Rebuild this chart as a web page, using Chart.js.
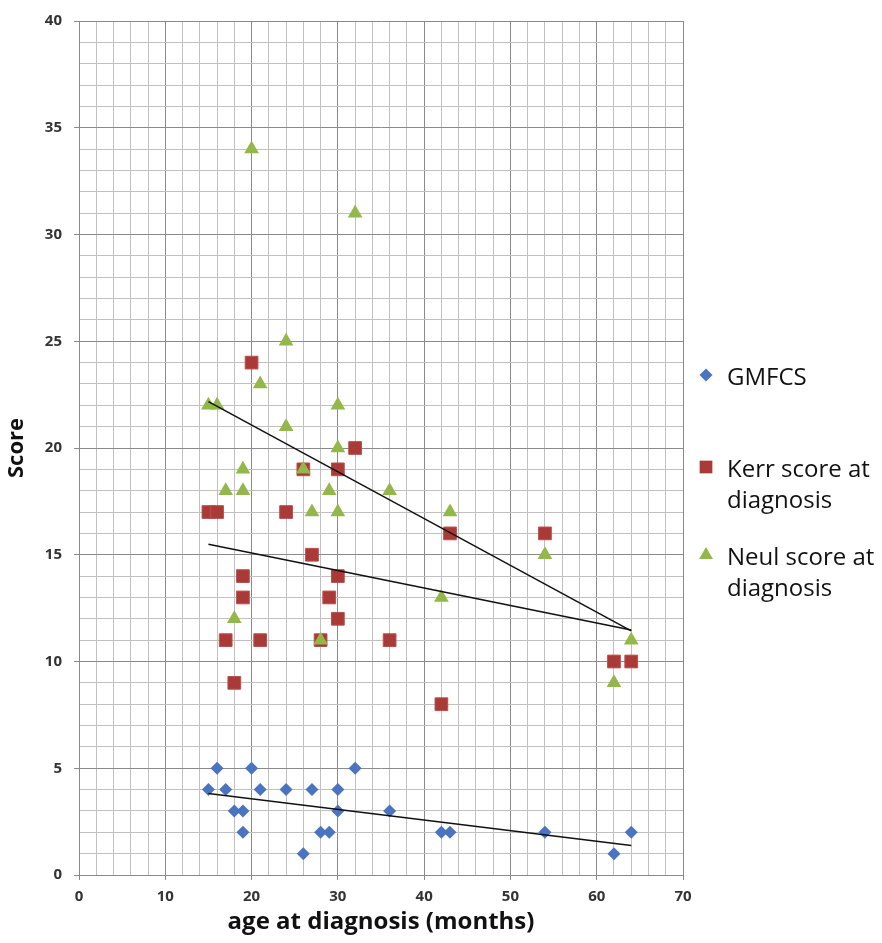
<!DOCTYPE html>
<html>
<head>
<meta charset="utf-8">
<script src="https://cdn.jsdelivr.net/npm/chart.js@4.4.1/dist/chart.umd.min.js"></script>
<style>
  html, body { margin: 0; padding: 0; background: #fff; }
  #wrap { position: relative; width: 882px; height: 943px; }
</style>
</head>
<body>
<div id="wrap"><canvas id="chart" width="882" height="943"></canvas></div>
<script>
  // age at diagnosis (months) and score, one pair of arrays per series
  var gmfcsAge = [15, 16, 17, 18, 19, 19, 20, 21, 24, 26, 27, 28, 29, 30, 30, 32, 36, 42, 43, 54, 62, 64];
  var gmfcsScore = [4, 5, 4, 3, 3, 2, 5, 4, 4, 1, 4, 2, 2, 4, 3, 5, 3, 2, 2, 2, 1, 2];

  var kerrAge = [15, 16, 17, 18, 19, 19, 20, 21, 24, 26, 27, 28, 29, 30, 30, 30, 32, 36, 42, 43, 54, 62, 64];
  var kerrScore = [17, 17, 11, 9, 14, 13, 24, 11, 17, 19, 15, 11, 13, 19, 14, 12, 20, 11, 8, 16, 16, 10, 10];

  var neulAge = [15, 16, 17, 18, 19, 19, 20, 21, 24, 24, 26, 27, 28, 29, 30, 30, 30, 32, 36, 42, 43, 54, 62, 64];
  var neulScore = [22, 22, 18, 12, 19, 18, 34, 23, 25, 21, 19, 17, 11, 18, 22, 20, 17, 31, 18, 13, 17, 15, 9, 11];

  var seriesNames = ["GMFCS", "Kerr score at diagnosis", "Neul score at diagnosis"];
  var xTitle = "age at diagnosis (months)";
  var yTitle = "Score";

  var FONT = "'Open Sans'";
  var BLUE = "#4a74bf", RED = "#a93a38", GREEN = "#93b84a";
  var MAJOR_GRID = "#8a8a8a", MINOR_GRID = "#c0c0c0";

  function points(xs, ys) {
    return xs.map(function (x, i) { return { x: x, y: ys[i] }; });
  }

  // least-squares line over the series' own x range (Excel linear trendline)
  function trendline(xs, ys) {
    var n = xs.length, sx = 0, sy = 0, sxy = 0, sxx = 0;
    for (var i = 0; i < n; i++) {
      sx += xs[i]; sy += ys[i]; sxy += xs[i] * ys[i]; sxx += xs[i] * xs[i];
    }
    var slope = (n * sxy - sx * sy) / (n * sxx - sx * sx);
    var icpt = (sy - slope * sx) / n;
    var x0 = Math.min.apply(null, xs), x1 = Math.max.apply(null, xs);
    return [{ x: x0, y: icpt + slope * x0 }, { x: x1, y: icpt + slope * x1 }];
  }

  function trendDataset(xs, ys) {
    return {
      type: "line", data: trendline(xs, ys), borderColor: "#111", borderWidth: 1.5,
      pointRadius: 0, showLine: true, fill: false, order: 0,
    };
  }

  // legend to the right of the plot, drawn by hand (two-line labels)
  var legendEntries = [
    { lines: ["GMFCS"], style: "rectRot", radius: 6.5, color: BLUE, y: 378 },
    { lines: ["Kerr score at", "diagnosis"], style: "rect", radius: 9, color: RED, y: 470 },
    { lines: ["Neul score at", "diagnosis"], style: "triangle", radius: 8, color: GREEN, y: 558 },
  ];

  var sideLegend = {
    id: "sideLegend",
    afterDraw: function (chart) {
      var ctx = chart.ctx;
      ctx.save();
      ctx.font = "24px " + FONT;
      ctx.textBaseline = "middle";
      ctx.textAlign = "left";
      legendEntries.forEach(function (e) {
        ctx.fillStyle = e.color;
        Chart.helpers.drawPoint(ctx, { pointStyle: e.style, radius: e.radius, borderWidth: 0, rotation: 0 }, 706, e.y - 3);
        ctx.fillStyle = "#111";
        e.lines.forEach(function (line, i) {
          ctx.fillText(line, 727, e.y + i * 31);
        });
      });
      ctx.restore();
    },
  };

  function gridColor(step) {
    return function (c) {
      return c.tick && c.tick.value % step === 0 ? MAJOR_GRID : MINOR_GRID;
    };
  }
  function tickMarkColor(step) {
    return function (c) {
      return c.tick && c.tick.value % step === 0 ? MAJOR_GRID : "rgba(0,0,0,0)";
    };
  }
  function majorLabel(step) {
    return function (v) { return v % step === 0 ? String(v) : ""; };
  }

  var tickFont = { family: FONT, size: 15, weight: "bold" };

  new Chart(document.getElementById("chart"), {
    type: "scatter",
    data: {
      datasets: [
        { label: seriesNames[0], data: points(gmfcsAge, gmfcsScore), pointStyle: "rectRot", pointRadius: 6.5,
          backgroundColor: BLUE, borderColor: BLUE, borderWidth: 0, order: 3 },
        { label: seriesNames[1], data: points(kerrAge, kerrScore), pointStyle: "rect", pointRadius: 9,
          backgroundColor: RED, borderColor: "#b9504c", borderWidth: 1, order: 2 },
        { label: seriesNames[2], data: points(neulAge, neulScore), pointStyle: "triangle", pointRadius: 8.5,
          backgroundColor: GREEN, borderColor: GREEN, borderWidth: 0, order: 1 },
        trendDataset(gmfcsAge, gmfcsScore),
        trendDataset(kerrAge, kerrScore),
        trendDataset(neulAge, neulScore),
      ],
    },
    options: {
      responsive: false,
      animation: false,
      events: [],
      layout: { padding: { left: 0, top: 19, right: 199, bottom: 0 } },
      plugins: { legend: { display: false }, tooltip: { enabled: false } },
      scales: {
        x: {
          type: "linear", min: 0, max: 70,
          ticks: { stepSize: 2, autoSkip: false, maxRotation: 0, padding: 8, color: "#333",
                   font: tickFont, callback: majorLabel(10) },
          grid: { color: gridColor(10), tickLength: 5, tickColor: tickMarkColor(10) },
          border: { color: MAJOR_GRID },
          title: { display: true, text: xTitle, color: "#111", font: { family: FONT, size: 24, weight: "bold" },
                   padding: { top: 0, bottom: 6 } },
          afterFit: function (s) { s.height = 68; },
        },
        y: {
          type: "linear", min: 0, max: 40,
          ticks: { stepSize: 1, autoSkip: false, padding: 12, color: "#333",
                   font: tickFont, callback: majorLabel(5) },
          grid: { color: gridColor(5), tickLength: 5, tickColor: tickMarkColor(5) },
          border: { color: MAJOR_GRID },
          title: { display: true, text: yTitle, color: "#111", font: { family: FONT, size: 22, weight: "bold" },
                   padding: { top: 4, bottom: 0 } },
          afterFit: function (s) { s.width = 79; },
        },
      },
    },
    plugins: [sideLegend],
  });
</script>
</body>
</html>
